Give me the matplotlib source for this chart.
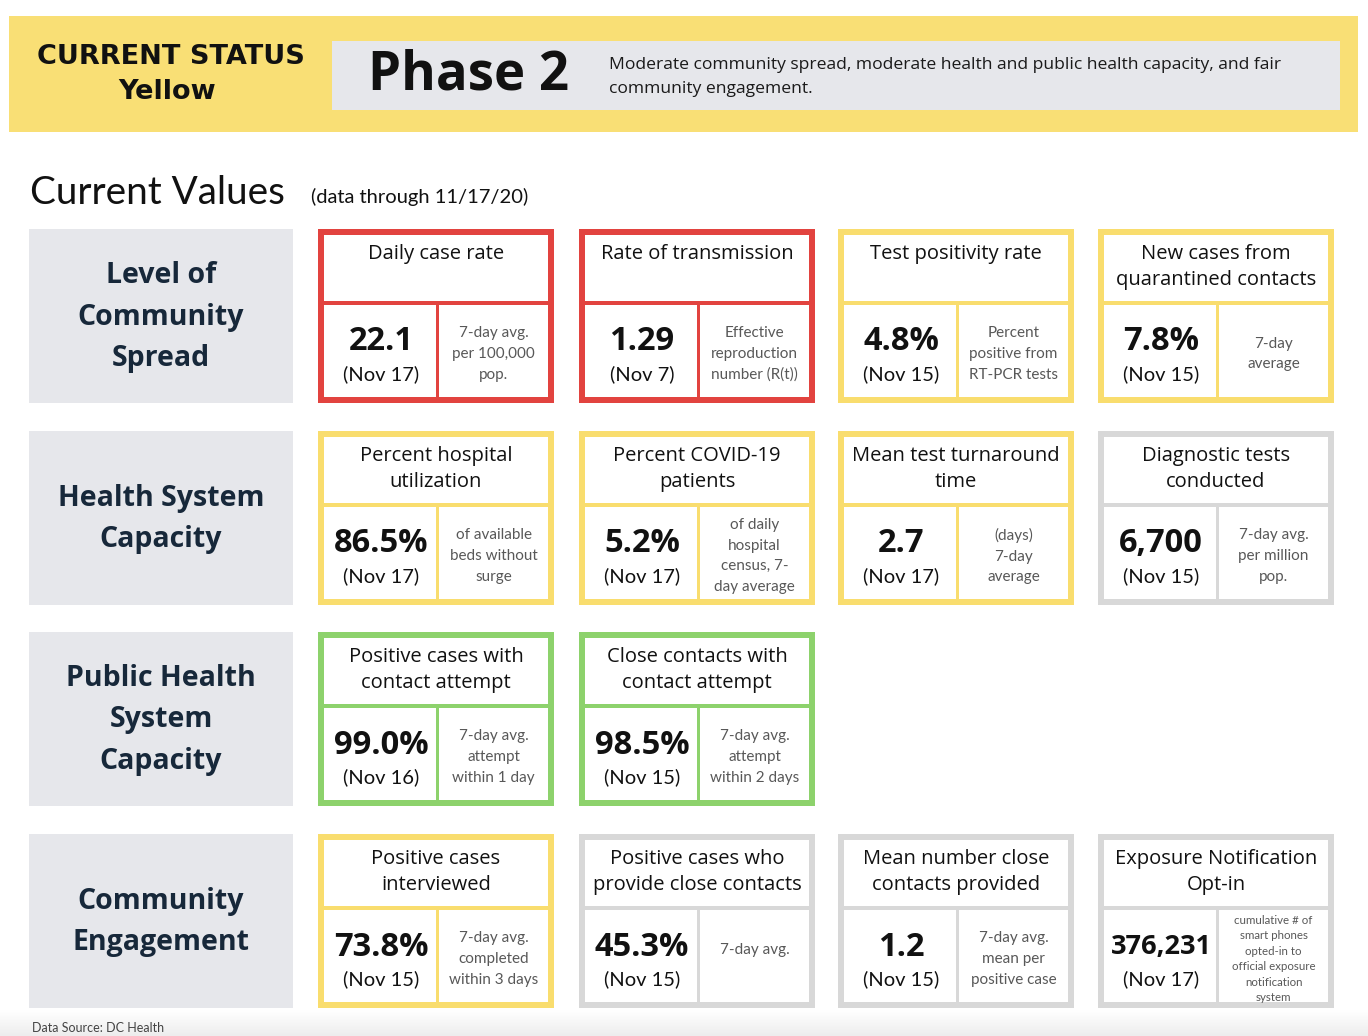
import matplotlib
matplotlib.use("Agg")
import matplotlib.pyplot as plt
from matplotlib.patches import Rectangle
import numpy as np

# ---------------- data ----------------
status_heading = "CURRENT STATUS"
status_colour_name = "Yellow"
phase_name = "Phase 2"
phase_description = ("Moderate community spread, moderate health and public health capacity, and fair\n"
                     "community engagement.")
section_title = "Current Values"
data_through = "(data through 11/17/20)"
source_note = "Data Source: DC Health"

categories = ["Level of\nCommunity\nSpread",
              "Health System\nCapacity",
              "Public Health\nSystem\nCapacity",
              "Community\nEngagement"]

metric_titles = [
    ["Daily case rate", "Rate of transmission", "Test positivity rate",
     "New cases from\nquarantined contacts"],
    ["Percent hospital\nutilization", "Percent COVID-19\npatients", "Mean test turnaround\ntime",
     "Diagnostic tests\nconducted"],
    ["Positive cases with\ncontact attempt", "Close contacts with\ncontact attempt"],
    ["Positive cases\ninterviewed", "Positive cases who\nprovide close contacts",
     "Mean number close\ncontacts provided", "Exposure Notification\nOpt-in"],
]
metric_values = [
    ["22.1", "1.29", "4.8%", "7.8%"],
    ["86.5%", "5.2%", "2.7", "6,700"],
    ["99.0%", "98.5%"],
    ["73.8%", "45.3%", "1.2", "376,231"],
]
metric_dates = [
    ["(Nov 17)", "(Nov 7)", "(Nov 15)", "(Nov 15)"],
    ["(Nov 17)", "(Nov 17)", "(Nov 17)", "(Nov 15)"],
    ["(Nov 16)", "(Nov 15)"],
    ["(Nov 15)", "(Nov 15)", "(Nov 15)", "(Nov 17)"],
]
metric_notes = [
    ["7-day avg.\nper 100,000\npop.", "Effective\nreproduction\nnumber (R(t))",
     "Percent\npositive from\nRT-PCR tests", "7-day\naverage"],
    ["of available\nbeds without\nsurge", "of daily\nhospital\ncensus, 7-\nday average",
     "(days)\n7-day\naverage", "7-day avg.\nper million\npop."],
    ["7-day avg.\nattempt\nwithin 1 day", "7-day avg.\nattempt\nwithin 2 days"],
    ["7-day avg.\ncompleted\nwithin 3 days", "7-day avg.",
     "7-day avg.\nmean per\npositive case",
     "cumulative # of\nsmart phones\nopted-in to\nofficial exposure\nnotification\nsystem"],
]
metric_levels = [
    ["red", "red", "yellow", "yellow"],
    ["yellow", "yellow", "yellow", "grey"],
    ["green", "green"],
    ["yellow", "grey", "grey", "grey"],
]

# ---------------- style ----------------
LATO = ["Lato", "DejaVu Sans"]
OPEN = ["Open Sans", "Lato", "DejaVu Sans"]
DEJA = ["DejaVu Sans"]
plt.rcParams["font.family"] = LATO
level_colours = {"red": "#E2433F", "yellow": "#F9DD6E", "green": "#8DD26C", "grey": "#D8D8D8"}
banner_yellow = "#F9DF75"
panel_grey = "#E6E7EB"
label_navy = "#17283A"
note_grey = "#585858"

W, H = 1368, 1036
fig = plt.figure(figsize=(W / 100, H / 100), dpi=100)
ax = fig.add_axes([0, 0, 1, 1])
ax.set_xlim(0, W)
ax.set_ylim(H, 0)
ax.axis("off")

# banner
ax.add_patch(Rectangle((9, 16), 1349, 116, facecolor=banner_yellow, edgecolor="none"))
ax.add_patch(Rectangle((332, 41), 1008, 69, facecolor=panel_grey, edgecolor="none"))
ax.text(171, 57, status_heading, ha="center", va="center", fontsize=19.5, fontweight="bold",
        color="#111111", family=DEJA)
ax.text(167, 92, status_colour_name, ha="center", va="center", fontsize=19.5, fontweight="bold",
        color="#111111", family=DEJA)
ax.text(368, 75, phase_name, ha="left", va="center", fontsize=38, fontweight="bold",
        color="#111111", family=OPEN)
ax.text(609, 77, phase_description, ha="left", va="center", fontsize=12.6, color="#1a1a1a",
        linespacing=1.6, family=OPEN)

# section title
ax.text(30, 193, section_title, ha="left", va="center", fontsize=27.8, color="#111111")
ax.text(311, 197, data_through, ha="left", va="center", fontsize=14.5, color="#111111")

# bottom strip gradient
grad = np.linspace(1.0, 0.93, 30).reshape(-1, 1)
ax.imshow(np.dstack([grad, grad, grad]), extent=(0, W, 1036, 1010), aspect="auto", zorder=0)
ax.text(32, 1028, source_note, ha="left", va="center", fontsize=9, color="#444444")

row_tops = [229, 431, 632, 834]
col_lefts = [318, 579, 838, 1098]
card_w, card_h = 236, 174
bw = 6          # outer border
sep_y = 72      # header separator offset
sep_t = 4       # separator thickness
vdiv = 118      # vertical divider offset
vt = 3

for r, top in enumerate(row_tops):
    # category label panel
    ax.add_patch(Rectangle((29, top), 264, card_h, facecolor=panel_grey, edgecolor="none"))
    ax.text(161, top + card_h / 2 + 1, categories[r], ha="center", va="center", fontsize=20.5,
            fontweight="bold", color=label_navy, linespacing=1.55, family=OPEN)
    for c in range(len(metric_titles[r])):
        x0 = col_lefts[c]
        col = level_colours[metric_levels[r][c]]
        ax.add_patch(Rectangle((x0, top), card_w, card_h, facecolor=col, edgecolor="none"))
        # header white
        ax.add_patch(Rectangle((x0 + bw, top + bw), card_w - 2 * bw, sep_y - bw,
                               facecolor="white", edgecolor="none"))
        low_y = top + sep_y + sep_t
        low_h = card_h - bw - sep_y - sep_t
        ax.add_patch(Rectangle((x0 + bw, low_y), vdiv - bw, low_h, facecolor="white", edgecolor="none"))
        ax.add_patch(Rectangle((x0 + vdiv + vt, low_y), card_w - bw - vdiv - vt, low_h,
                               facecolor="white", edgecolor="none"))
        # title
        ax.text(x0 + card_w / 2, top + 15, metric_titles[r][c], ha="center", va="top", fontsize=14.5,
                color="#111111", linespacing=1.38, family=OPEN)
        # value + date
        lx = x0 + (bw + vdiv) / 2 + 1
        val = metric_values[r][c]
        vfs = 19.5 if len(val) > 6 else 23.5
        ax.text(lx, top + 113, val, ha="center", va="center", fontsize=vfs,
                fontweight="bold", color="#111111", family=OPEN)
        ax.text(lx, top + 145, metric_dates[r][c], ha="center", va="center", fontsize=14.5,
                color="#111111")
        # note
        rx = x0 + (vdiv + vt + card_w - bw) / 2
        note = metric_notes[r][c]
        nlines = note.count("\n") + 1
        fs = 8.3 if nlines > 4 else 11
        ls = 1.5 if nlines > 4 else 1.6
        ny = top + 125 if nlines > 1 else top + 116
        ax.text(rx, ny, note, ha="center", va="center", fontsize=fs, color=note_grey, linespacing=ls)

fig.savefig("out.png", dpi=100, facecolor="white")
